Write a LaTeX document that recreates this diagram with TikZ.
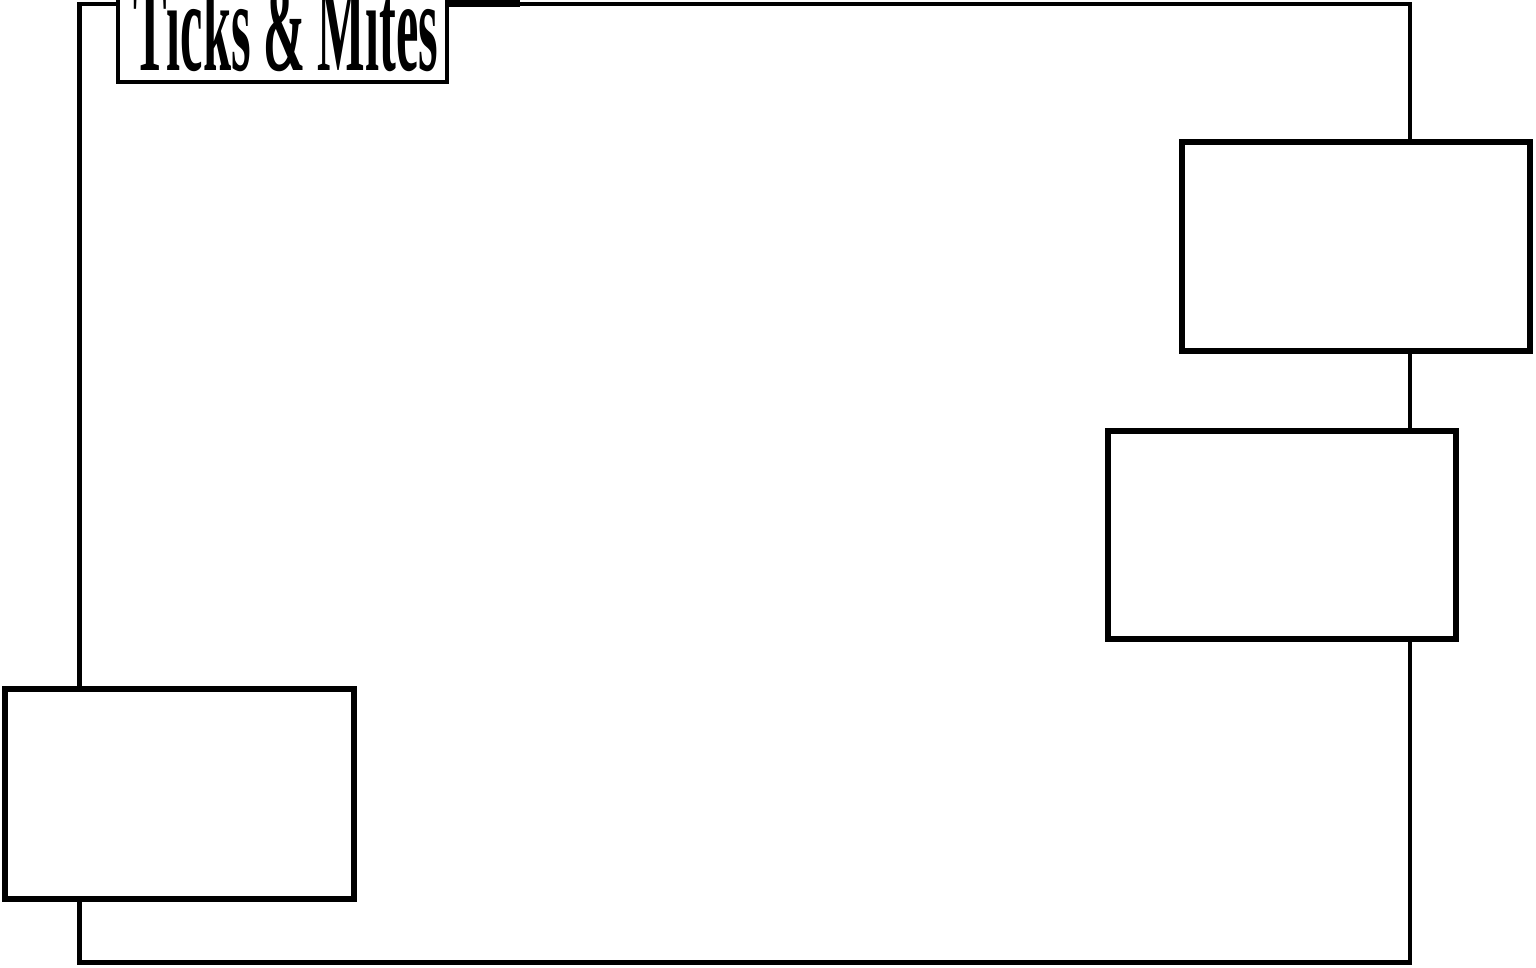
\documentclass[tikz,border=0pt]{standalone}
\usepackage{fontspec}
\setmainfont{Liberation Serif}
\usepackage{graphicx}
\begin{document}
\begin{tikzpicture}[x=1pt,y=-1pt,
  frameline/.style={line width=4.8pt,draw=black},
  panel/.style={draw=black,line width=6pt,fill=white,rectangle,inner sep=0pt},
  titlebox/.style={draw=black,line width=4pt,fill=white}]
\useasboundingbox (0,0) rectangle (1536,967);
\clip (0,0) rectangle (1536,967);
% frame corners
\coordinate (tl) at (79.5,4);
\coordinate (tr) at (1410,4);
\coordinate (br) at (1410,962.5);
\coordinate (bl) at (79.5,962.5);
\draw[frameline,line join=miter] (tl) -- (tr) -- (br) -- (bl) -- cycle;
\coordinate (thickA) at (447,3.5);
\coordinate (thickB) at (520,3.5);
\draw[line width=6.5pt] (thickA) -- (thickB);
% title
\draw[titlebox] (117.5,-20) rectangle (447,82);
\node[anchor=base,inner sep=0pt] (title) at (286,70)
  {\resizebox{304pt}{90pt}{\bfseries Ticks \& Mites}};
% panels
\node[panel,minimum width=348pt,minimum height=209pt] (p1) at (1356,246.5) {};
\node[panel,minimum width=348pt,minimum height=208pt] (p2) at (1282,535) {};
\node[panel,minimum width=349pt,minimum height=210pt] (p3) at (179.5,794) {};
\end{tikzpicture}
\end{document}
